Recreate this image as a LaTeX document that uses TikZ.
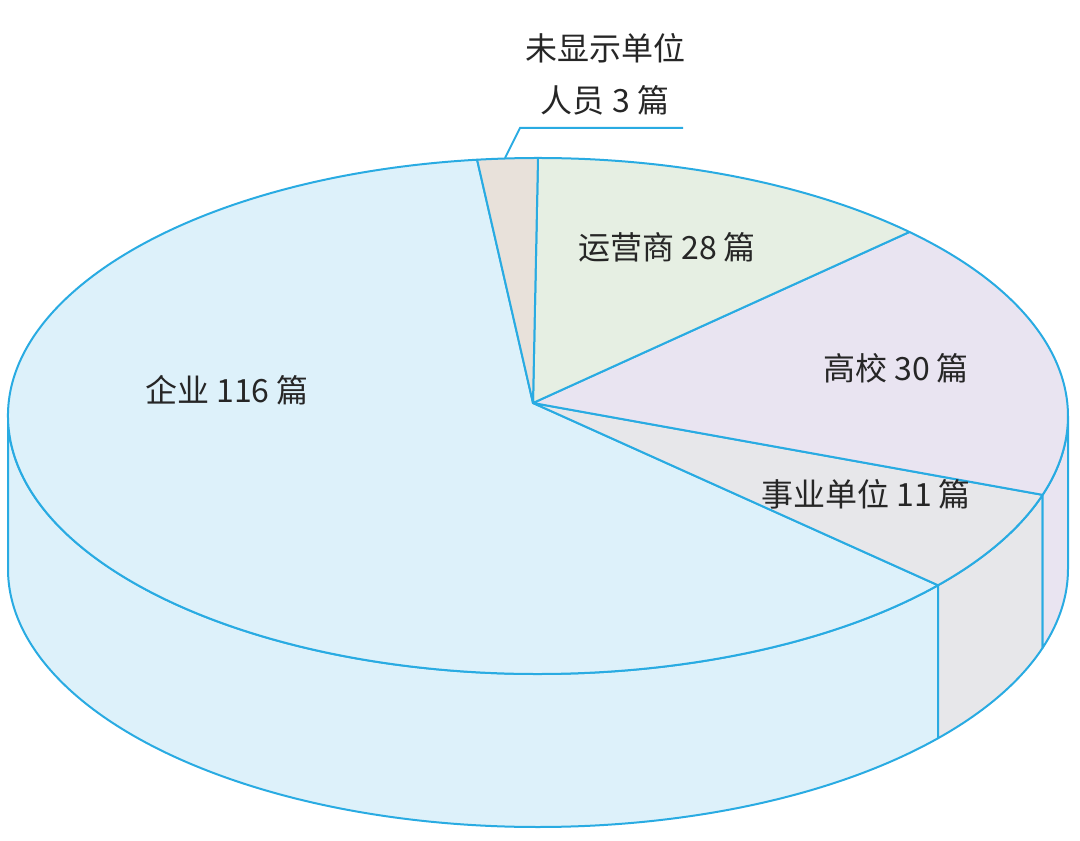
\documentclass[tikz,border=0pt]{standalone}
\usepackage{fontspec}
\setmainfont{Noto Sans CJK SC}
\usetikzlibrary{calc, positioning}
\definecolor{edge}{HTML}{29ABE2}
\definecolor{qiye}{HTML}{DDF1FA}
\definecolor{shiye}{HTML}{E7E7EA}
\definecolor{gaoxiao}{HTML}{E9E4F1}
\definecolor{yunying}{HTML}{E6EFE3}
\definecolor{weixian}{HTML}{E8E1DA}
\tikzset{
  x=1pt, y=1pt,
  slice/.style={draw=edge, line width=2pt, line join=round},
  label/.style={font=\fontsize{32}{38}\selectfont, text=black!85, inner sep=0pt},
}
\newcommand{\rx}{530}
\newcommand{\ry}{258}
\newcommand{\dep}{153}
% top slice from angle #1 to #2
\newcommand{\topslice}[3]{%
  \filldraw[slice, fill=#3] (apex) -- ($(ctr)+(#1:\rx pt and \ry pt)$)
    arc[start angle=#1, end angle=#2, x radius=\rx, y radius=\ry] -- cycle;}
% side wall from angle #1 to #2
\newcommand{\sidewall}[3]{%
  \filldraw[slice, fill=#3] ($(ctr)+(#1:\rx pt and \ry pt)$)
    arc[start angle=#1, end angle=#2, x radius=\rx, y radius=\ry] -- ++(0,-\dep)
    arc[start angle=#2, end angle=#1, x radius=\rx, y radius=\ry] -- cycle;}
\begin{document}
\begin{tikzpicture}
  \useasboundingbox (0,0) rectangle (1080,841);
  \coordinate (ctr) at (538,425);
  \coordinate (apex) at (533,438);

  % side walls
  \sidewall{180}{319}{qiye}
  \sidewall{319}{342.2}{shiye}
  \sidewall{342.2}{360}{gaoxiao}

  % top slices
  \topslice{96.6}{319}{qiye}
  \topslice{-41}{-17.8}{shiye}
  \topslice{-17.8}{45.5}{gaoxiao}
  \topslice{45.5}{90}{yunying}
  \topslice{90}{96.6}{weixian}

  % labels
  \node[label] (qiyeL) at (227,451) {企业 116 篇};
  \node[label] (yunyingL) at (667,594) {运营商 28 篇};
  \node[label] (gaoxiaoL) at (896,473) {高校 30 篇};
  \node[label] (shiyeL) at (866,347) {事业单位 11 篇};
  \node[label] (weixianL1) at (605,793) {未显示单位};
  \node[label] (weixianL2) at (605,741) {人员 3 篇};

  % callout
  \coordinate (callA) at (505,683);
  \coordinate (callB) at (520,713);
  \coordinate (callC) at (683,713);
  \draw[edge, line width=2pt] (callA) -- (callB) -- (callC);
\end{tikzpicture}
\end{document}
